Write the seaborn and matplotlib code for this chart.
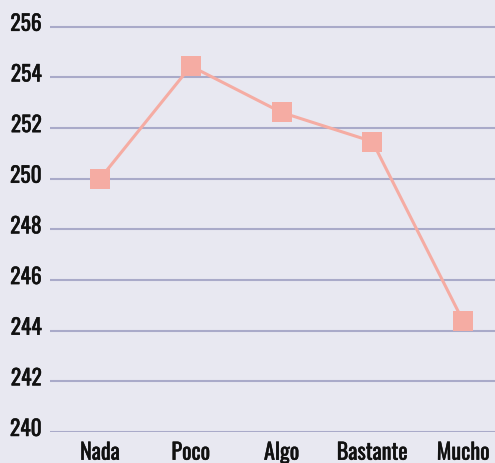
import matplotlib
matplotlib.use("Agg")
import matplotlib.pyplot as plt
import matplotlib.transforms as mtrans
import matplotlib.patheffects as pe
import seaborn as sns
import pandas as pd
from matplotlib import font_manager

categories = ["Nada", "Poco", "Algo", "Bastante", "Mucho"]
values = [250.0, 254.45, 252.62, 251.47, 244.37]
yticks = [240, 242, 244, 246, 248, 250, 252, 254, 256]

sns.set_theme(style="white")
names = {f.name for f in font_manager.fontManager.ttflist}
fam = [n for n in ["Oswald", "Barlow Condensed", "Archivo Narrow", "Asap Condensed"] if n in names][:1] + ["DejaVu Sans"]
plt.rcParams["font.family"] = fam

bg = "#E8E8F1"
df = pd.DataFrame({"cat": categories, "val": values, "x": range(len(categories))})

fig = plt.figure(figsize=(4.95, 4.64), dpi=100, facecolor=bg)
ax = fig.add_axes([50 / 495, (464 - 433) / 464, 445 / 495, 433 / 464])
ax.set_facecolor(bg)

for t in yticks:
    ax.axhline(t, color="#A9AAC9", lw=1.5, zorder=1)

sns.lineplot(data=df, x="x", y="val", ax=ax, color="#F5ACA3", lw=2.2,
             marker="s", markersize=15, markeredgewidth=0, zorder=3)

ax.set_xlim(-0.55, 4.35)
ax.set_ylim(240, 257.1)
ax.set_xticks(range(len(categories)))
ax.set_xticklabels(categories)
ax.set_yticks(yticks)
ax.set_yticklabels([str(t) for t in yticks])
ax.tick_params(axis="both", length=0, labelsize=16, colors="#111111")
ax.tick_params(axis="y", labelsize=15.5, pad=6)
ax.tick_params(axis="x", pad=7)
stroke = [pe.withStroke(linewidth=0.35, foreground="#111111")]
for lab in ax.get_xticklabels() + ax.get_yticklabels():
    lab.set_fontweight("bold")
    lab.set_path_effects(stroke)
off = mtrans.ScaledTranslation(0, 5 / 100, fig.dpi_scale_trans)
for lab in ax.get_yticklabels():
    lab.set_transform(lab.get_transform() + off)
ax.set_xlabel("")
ax.set_ylabel("")
for s in ax.spines.values():
    s.set_visible(False)

fig.savefig("out.png", dpi=100, facecolor=bg)
